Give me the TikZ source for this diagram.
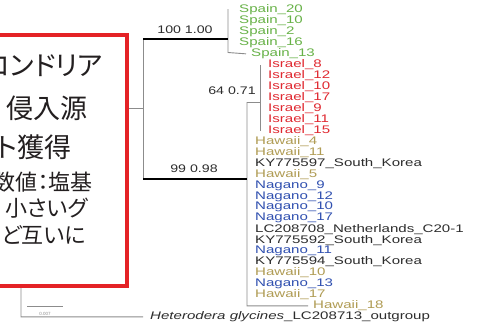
\documentclass[tikz,border=0pt]{standalone}
\usepackage{fontspec}
\newfontfamily\tfont{Liberation Sans}
\newfontfamily\jpfont[RawFeature=+palt]{Noto Sans CJK JP}
\definecolor{spain}{RGB}{104,178,72}
\definecolor{israel}{RGB}{224,40,48}
\definecolor{hawaii}{RGB}{176,156,84}
\definecolor{nagano}{RGB}{48,80,176}
\definecolor{dk}{RGB}{45,45,45}
\definecolor{br}{RGB}{140,140,140}
\definecolor{boxred}{RGB}{228,34,38}
\definecolor{jptext}{RGB}{35,31,32}
\newcommand{\sx}[1]{\scalebox{1.37}[1]{#1}}
\tikzset{
  lab/.style={anchor=west, inner sep=0pt, font=\tfont\fontsize{11pt}{11pt}\selectfont},
  boot/.style={inner sep=0pt, text=dk, font=\tfont\fontsize{11pt}{11pt}\selectfont},
  thin/.style={draw=br, line width=0.9pt},
  thickbr/.style={draw=black, line width=2.4pt},
  jpbig/.style={anchor=east, inner sep=0pt, text=jptext, font=\jpfont\fontsize{27pt}{27pt}\selectfont},
  jpsmall/.style={anchor=east, inner sep=0pt, text=jptext, font=\jpfont\fontsize{22pt}{22pt}\selectfont}
}
\begin{document}
\begin{tikzpicture}[x=1pt,y=-1pt]
\useasboundingbox (0,0) rectangle (477,327);
\fill[white] (0,0) rectangle (477,327);

% leaf labels
\foreach \i/\t/\c/\x in {
  0/Spain\_20/spain/239, 1/Spain\_10/spain/239, 2/Spain\_2/spain/239, 3/Spain\_16/spain/239,
  4/Spain\_13/spain/251,
  5/Israel\_8/israel/268, 6/Israel\_12/israel/268, 7/Israel\_10/israel/268, 8/Israel\_17/israel/268,
  9/Israel\_9/israel/268, 10/Israel\_11/israel/268, 11/Israel\_15/israel/268,
  12/Hawaii\_4/hawaii/255, 13/Hawaii\_11/hawaii/255, 14/KY775597\_South\_Korea/dk/255,
  15/Hawaii\_5/hawaii/255, 16/Nagano\_9/nagano/255, 17/Nagano\_12/nagano/255,
  18/Nagano\_10/nagano/255, 19/Nagano\_17/nagano/255, 20/LC208708\_Netherlands\_C20-1/dk/255,
  21/KY775592\_South\_Korea/dk/255, 22/Nagano\_11/nagano/255, 23/KY775594\_South\_Korea/dk/255,
  24/Hawaii\_10/hawaii/255, 25/Nagano\_13/nagano/255, 26/Hawaii\_17/hawaii/255,
  27/Hawaii\_18/hawaii/313}
  \node[lab, text=\c] (L\i) at (\x, {10+10.96*\i}) {\sx{\t}};
\node[lab, text=dk] (L28) at (150,316.88) {\sx{\textit{Heterodera glycines}\_LC208713\_outgroup}};

% internal nodes
\coordinate (root) at (21,108);
\coordinate (ing) at (143,108);
\coordinate (ingtop) at (143,39);
\coordinate (ingbot) at (143,179);
\coordinate (spn) at (228,39);
\coordinate (spntop) at (228,9);
\coordinate (spnbot) at (228,52.5);
\coordinate (low) at (247,179);
\coordinate (lowtop) at (247,102);
\coordinate (lowbot) at (247,305.9);
\coordinate (isr) at (260,102);
\coordinate (isrtop) at (260,65);
\coordinate (isrbot) at (260,131);
\coordinate (rootbot) at (21,316.9);

% branches
\draw[thin] (root) -- (ing);
\draw[thin] (ingtop) -- (ingbot);
\draw[thin] (root) -- (rootbot) -- ([xshift=-7pt]L28.west);
\draw[thin] (spntop) -- (spnbot) -- ([xshift=-5pt]L4.west);
\draw[thin] (lowtop) -- (lowbot) -- ([xshift=-5pt]L27.west);
\draw[thin] (lowtop) -- (isr);
\draw[thin] (isrtop) -- (isrbot);
\draw[thickbr] (ingtop) -- (spn);
\draw[thickbr] (ingbot) -- (low);

% support values
\node[boot] (b1) at (185,30) {\scalebox{1.29}[1]{100 1.00}};
\node[boot] (b2) at (232,91) {\scalebox{1.29}[1]{64 0.71}};
\node[boot] (b3) at (194,168.5) {\scalebox{1.29}[1]{99 0.98}};

% scale bar
\coordinate (sbl) at (27,306);
\coordinate (sbr) at (63,306);
\draw[thin, line width=0.8pt] (sbl) -- (sbr);
\node[inner sep=0pt, text=br, font=\tfont\fontsize{4.5pt}{4.5pt}\selectfont] (sb) at (45,313.5) {0.007};

% red box
\draw[boxred, line width=3.8pt, fill=white] (-10,35) rectangle (127,286);
\node[jpbig] (j1) at (103,66) {コンドリア};
\node[jpbig] (j2) at (88,108) {侵入源};
\node[jpbig] (j3) at (72,147) {ト獲得};
\node[jpsmall] (j4) at (93,182) {数値：塩基};
\node[jpsmall] (j5) at (88,208) {小さいグ};
\node[jpsmall] (j6) at (86,235) {ど互いに};
\end{tikzpicture}
\end{document}
